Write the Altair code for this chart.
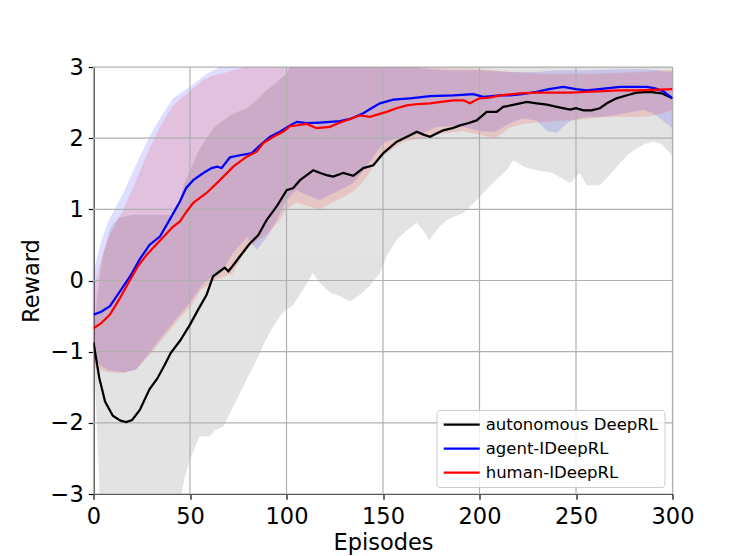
import altair as alt
import pandas as pd

# ---------------- data ----------------
series_names = ["autonomous DeepRL", "agent-IDeepRL", "human-IDeepRL"]
series_colors = ["#000000", "#0000ff", "#ff0000"]

x_ticks = [0, 50, 100, 150, 200, 250, 300]
y_ticks = [-3, -2, -1, 0, 1, 2, 3]

# autonomous DeepRL (black) mean
auto_x = [0, 3, 6, 10, 14, 17, 20, 24, 29, 33, 37, 40, 45, 50, 54, 58.6, 62, 65.5, 68, 69.9,
          72, 75.9, 81, 85.4, 89.7, 94.9, 100.1, 103.5, 107, 110, 113.9, 117.4, 120.8, 124.2,
          129.4, 134.6, 139.8, 145, 150.2, 157.1, 164, 167.5, 171, 174.4, 178, 181.2, 186,
          189.9, 194, 198.5, 203.7, 208.9, 212.3, 218, 224.5, 229.6, 235, 240, 247, 250,
          253.8, 258, 262.4, 266, 271, 276, 281.4, 288.3, 294.4, 300]
auto_y = [-0.87, -1.37, -1.70, -1.90, -1.97, -1.99, -1.96, -1.82, -1.53, -1.38, -1.18, -1.02,
          -0.84, -0.62, -0.42, -0.20, 0.06, 0.13, 0.18, 0.13, 0.20, 0.34, 0.52, 0.64, 0.85,
          1.04, 1.27, 1.30, 1.41, 1.47, 1.55, 1.51, 1.48, 1.46, 1.51, 1.47, 1.58, 1.62, 1.79,
          1.95, 2.04, 2.09, 2.05, 2.02, 2.07, 2.11, 2.14, 2.18, 2.21, 2.25, 2.37, 2.37, 2.44,
          2.47, 2.51, 2.49, 2.47, 2.44, 2.40, 2.42, 2.39, 2.39, 2.42, 2.49, 2.56, 2.60, 2.64,
          2.65, 2.63, 2.56]

# autonomous DeepRL band
auto_band_x = [0, 2, 3.5, 5, 9, 13, 20, 29, 40, 44, 47, 50, 55, 60.4, 63, 67.3, 70.7, 75.9,
               79.4, 84.5, 89, 93, 97, 100, 103, 108, 113.7, 117, 122.5, 128, 133, 138, 143,
               148.4, 152, 157, 162, 167.5, 171, 174, 178, 183, 187, 191.6, 198.5, 202, 206,
               210.6, 214, 217.5, 223, 229.6, 234, 238, 243, 247, 252, 255.5, 262.4, 268,
               272.8, 277, 281.4, 286, 290, 294, 298.7, 300]
auto_lo = [-0.90, -2.20, -3.20, -3.20, -3.20, -3.20, -3.20, -3.20, -3.20, -3.20, -2.80, -2.50,
           -2.19, -2.19, -2.10, -2.05, -1.86, -1.58, -1.38, -1.11, -0.85, -0.65, -0.48, -0.40,
           -0.36, -0.15, 0.11, -0.02, -0.17, -0.22, -0.29, -0.20, -0.08, 0.11, 0.35, 0.57,
           0.70, 0.81, 0.70, 0.57, 0.72, 0.85, 0.90, 0.95, 1.13, 1.23, 1.35, 1.46, 1.55, 1.69,
           1.60, 1.55, 1.53, 1.51, 1.43, 1.37, 1.51, 1.34, 1.34, 1.50, 1.65, 1.77, 1.86, 1.92,
           1.95, 1.92, 1.79, 1.75]
auto_hi = [-0.80, -0.20, 0.10, 0.35, 0.75, 0.88, 0.92, 0.92, 0.92, 1.10, 1.35, 1.55, 1.85,
           2.07, 2.16, 2.25, 2.32, 2.38, 2.42, 2.53, 2.66, 2.74, 2.84, 2.90, 3.05, 3.20, 3.20,
           3.20, 3.20, 3.20, 3.20, 3.20, 3.20, 3.20, 3.20, 3.20, 3.20, 3.20, 3.20, 3.20, 3.20,
           3.20, 3.20, 3.20, 3.20, 3.20, 3.20, 3.20, 3.20, 3.20, 3.20, 3.20, 3.20, 3.20, 3.20,
           3.20, 3.20, 3.20, 3.20, 3.20, 3.20, 3.20, 3.20, 3.20, 3.20, 3.20, 3.20, 3.20]

# agent-IDeepRL (blue) mean
agent_x = [0, 4, 8.5, 13, 19, 24, 29, 34.5, 40, 44.8, 48, 51.7, 56.9, 61.2, 64, 66.4, 70.7,
           75.9, 82, 86.3, 91.5, 96.6, 101.8, 105.3, 110.5, 117.4, 122.5, 127.7, 133, 139.8,
           144, 148.4, 155.3, 164, 174.4, 186.4, 196.8, 202, 210.6, 215.8, 222, 229.6, 236,
           243.4, 250, 255.5, 262, 272.8, 280, 286.6, 291, 295.2, 300]
agent_y = [-0.48, -0.44, -0.36, -0.18, 0.06, 0.30, 0.50, 0.62, 0.88, 1.11, 1.30, 1.41, 1.51,
           1.58, 1.60, 1.58, 1.73, 1.76, 1.79, 1.90, 2.02, 2.09, 2.18, 2.23, 2.21, 2.22, 2.23,
           2.24, 2.27, 2.35, 2.42, 2.49, 2.54, 2.56, 2.59, 2.60, 2.62, 2.58, 2.60, 2.60, 2.62,
           2.65, 2.69, 2.72, 2.69, 2.67, 2.69, 2.72, 2.72, 2.72, 2.70, 2.66, 2.56]

# human-IDeepRL (red) mean
human_x = [0, 4, 8.5, 13, 19, 23, 27.5, 33, 37.9, 41, 44.8, 48.3, 51.7, 58.6, 65.5, 72.4,
           79.4, 84.5, 88, 93.2, 98.3, 101.8, 105.3, 110.5, 115.6, 122.5, 127.7, 133, 138,
           143.3, 147, 151.9, 157, 162.3, 168, 174.4, 180, 186.4, 192, 195, 200, 205, 210.6,
           221, 229.6, 238, 247, 255, 264, 272, 281.4, 290, 300]
human_y = [-0.67, -0.60, -0.48, -0.28, 0.01, 0.20, 0.36, 0.52, 0.66, 0.75, 0.83, 0.97, 1.09,
           1.23, 1.41, 1.60, 1.74, 1.81, 1.93, 2.02, 2.09, 2.17, 2.18, 2.20, 2.14, 2.16, 2.22,
           2.27, 2.32, 2.30, 2.33, 2.37, 2.42, 2.46, 2.48, 2.49, 2.51, 2.53, 2.53, 2.49, 2.56,
           2.57, 2.60, 2.63, 2.64, 2.64, 2.64, 2.65, 2.66, 2.67, 2.67, 2.68, 2.69]

# agent-IDeepRL band
agent_band_x = [0, 4, 8, 15.5, 22, 29, 35, 41, 45, 50, 56, 58.6, 62, 67, 72, 79.5, 84.5, 90, 95,
                100, 105, 110.5, 117.4, 122, 127.7, 134.5, 140, 145, 150, 155, 160.5, 170.7,
                177.8, 185, 191.5, 200, 208, 215.8, 222, 229.6, 235, 240, 247, 255, 265, 275,
                285, 290, 295, 300]
agent_lo = [-1.10, -1.20, -1.26, -1.29, -1.25, -1.01, -0.80, -0.60, -0.47, -0.31, -0.07, 0.00,
            0.06, 0.15, 0.38, 0.61, 0.43, 0.62, 0.85, 1.13, 1.27, 1.20, 1.13, 1.20, 1.27, 1.37,
            1.55, 1.74, 1.93, 1.98, 2.02, 2.07, 2.16, 2.17, 2.16, 2.10, 2.09, 2.21, 2.28, 2.25,
            2.10, 2.08, 2.25, 2.30, 2.30, 2.35, 2.40, 2.35, 2.25, 2.14]
agent_hi = [0.12, 0.55, 0.85, 1.23, 1.62, 2.02, 2.30, 2.55, 2.63, 2.72, 2.85, 2.90, 2.95, 3.02,
            3.08, 3.12, 3.12, 3.12, 3.12, 3.12, 3.12, 3.12, 3.12, 3.12, 3.10, 3.10, 3.08, 3.06,
            3.05, 3.04, 3.02, 2.98, 2.96, 2.95, 2.95, 2.95, 2.94, 2.93, 2.93, 2.93, 2.94, 2.95,
            2.95, 2.95, 2.96, 2.97, 2.97, 2.96, 2.94, 2.93]

# human-IDeepRL band
human_band_x = agent_band_x
human_lo = [-1.20, -1.26, -1.29, -1.30, -1.25, -1.05, -0.85, -0.65, -0.52, -0.38, -0.12, -0.08,
            0.00, 0.05, 0.10, 0.45, 0.55, 0.65, 0.80, 1.00, 1.10, 1.05, 1.00, 1.07, 1.15, 1.25,
            1.40, 1.60, 1.75, 1.85, 1.95, 2.00, 2.05, 2.08, 2.10, 2.05, 2.00, 2.15, 2.20, 2.22,
            2.23, 2.25, 2.25, 2.27, 2.30, 2.30, 2.30, 2.32, 2.35, 2.40]
human_hi = [-0.12, 0.30, 0.62, 0.99, 1.40, 1.85, 2.18, 2.45, 2.55, 2.66, 2.80, 2.84, 2.88, 2.91,
            2.95, 3.00, 3.04, 3.08, 3.10, 3.10, 3.10, 3.10, 3.10, 3.10, 3.10, 3.10, 3.08, 3.06,
            3.06, 3.04, 3.02, 3.00, 2.99, 2.98, 2.98, 2.97, 2.95, 2.93, 2.92, 2.91, 2.90, 2.90,
            2.90, 2.90, 2.91, 2.92, 2.93, 2.94, 2.95, 2.95]

# ---------------- tables ----------------
lines_df = pd.concat([
    pd.DataFrame({"episode": auto_x, "reward": auto_y, "method": series_names[0]}),
    pd.DataFrame({"episode": agent_x, "reward": agent_y, "method": series_names[1]}),
    pd.DataFrame({"episode": human_x, "reward": human_y, "method": series_names[2]}),
], ignore_index=True)

auto_band = pd.DataFrame({"episode": auto_band_x, "lo": auto_lo, "hi": auto_hi})
agent_band = pd.DataFrame({"episode": agent_band_x, "lo": agent_lo, "hi": agent_hi})
human_band = pd.DataFrame({"episode": human_band_x, "lo": human_lo, "hi": human_hi})

xgrid_df = pd.DataFrame({"v": x_ticks})
ygrid_df = pd.DataFrame({"v": y_ticks})

FONT = "DejaVu Sans"
xscale = alt.Scale(domain=[0, 300], nice=False, zero=False)
yscale = alt.Scale(domain=[-3, 3], nice=False, zero=False)

x_axis = alt.Axis(values=x_ticks, grid=False, title="Episodes", labelFont=FONT,
                  labelFontSize=22.5, labelColor="black", titleFont=FONT, titleFontSize=22.5,
                  titleFontWeight="normal", titleColor="black", tickColor="black",
                  tickSize=5.25, tickWidth=1.2, domainColor="black", domainWidth=1.2,
                  labelPadding=6, titlePadding=4, labelFlush=False)
y_axis = alt.Axis(values=y_ticks, grid=False, title="Reward", labelFont=FONT,
                  labelFontSize=22.5, labelColor="black", titleFont=FONT, titleFontSize=22.5,
                  titleFontWeight="normal", titleColor="black", tickColor="black",
                  tickSize=5.25, tickWidth=1.2, domainColor="black", domainWidth=1.2,
                  labelPadding=5, titlePadding=6.5, labelFlush=False,
                  labelExpr="replace(datum.label, '-', '\u2212')")


def band(df, color, op):
    return alt.Chart(df).mark_area(clip=True, color=color, opacity=op,
                                   stroke=color, strokeOpacity=op + 0.05,
                                   strokeWidth=1).encode(
        x=alt.X("episode:Q", scale=xscale, axis=x_axis),
        y=alt.Y("lo:Q", scale=yscale, axis=y_axis),
        y2="hi:Q",
    )


gray_band = band(auto_band, "#000000", 0.11)
blue_band = band(agent_band, "#0000ff", 0.13)
red_band = band(human_band, "#ff0000", 0.13)

vgrid = alt.Chart(xgrid_df).mark_rule(color="#b0b0b0", strokeWidth=1.2).encode(
    x=alt.X("v:Q", scale=xscale, axis=x_axis))
hgrid = alt.Chart(ygrid_df).mark_rule(color="#b0b0b0", strokeWidth=1.2).encode(
    y=alt.Y("v:Q", scale=yscale, axis=y_axis))

lines = alt.Chart(lines_df).mark_line(strokeWidth=2.25, clip=True).encode(
    x=alt.X("episode:Q", scale=xscale, axis=x_axis),
    y=alt.Y("reward:Q", scale=yscale, axis=y_axis),
    color=alt.Color("method:N",
                    scale=alt.Scale(domain=series_names, range=series_colors),
                    legend=alt.Legend(
                        title=None, orient="none", legendX=343, legendY=343,
                        symbolType="M-2.5714,0L2.5714,0", symbolSize=196,
                        symbolStrokeWidth=2.25, symbolOffset=10.7,
                        labelOffset=15.5, labelFont=FONT, labelFontSize=16.5,
                        labelLimit=0,
                        labelColor="black", rowPadding=7, padding=6,
                        fillColor="rgba(255,255,255,0.8)", strokeColor="#cccccc",
                        cornerRadius=3)),
)

chart = alt.layer(gray_band, blue_band, red_band, vgrid, hgrid, lines).properties(
    width=579, height=427,
    autosize=alt.AutoSizeParams(type="none"),
    padding={"left": 85.5, "top": 59, "right": 60, "bottom": 62},
).configure_view(stroke="black", strokeWidth=1.2).configure(background="white")

chart.save("out.html", embed_options={"renderer": "svg", "actions": False})
